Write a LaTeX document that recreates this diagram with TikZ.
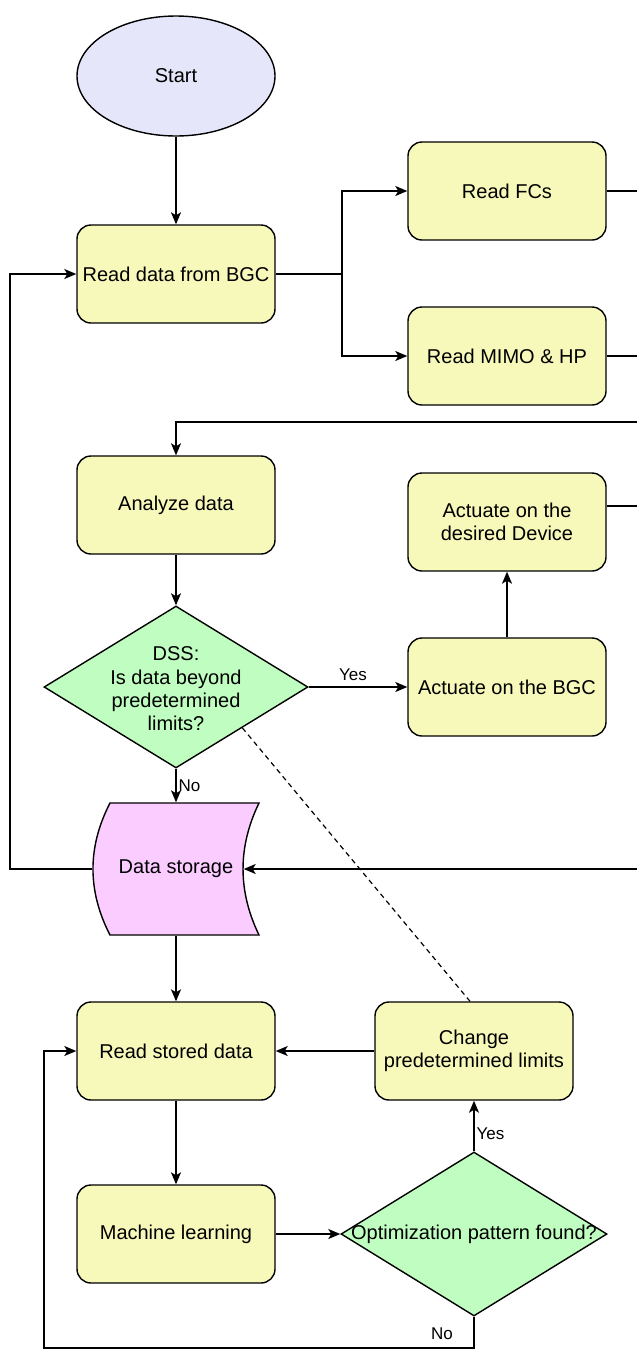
\documentclass[tikz,border=0pt]{standalone}
\usepackage{fontspec}
\setmainfont{Liberation Sans}
\usetikzlibrary{shapes.geometric,arrows.meta}
\definecolor{boxy}{HTML}{F7F9BA}
\definecolor{lav}{HTML}{E6E6FA}
\definecolor{grn}{HTML}{C0FDC0}
\definecolor{pnk}{HTML}{FACCFF}
\begin{document}
\begin{tikzpicture}[x=1pt,y=-1pt,line width=1.4pt,
  txt/.style={align=center,font=\fontsize{20}{23.4}\selectfont},
  box/.style={txt,draw,rounded corners=14pt,fill=boxy,minimum width=198pt,minimum height=98pt},
  dia/.style={diamond,draw,fill=grn,inner sep=0pt},
  arr/.style={-{Stealth[length=12pt,width=10pt,inset=3pt]}},
  lbl/.style={font=\fontsize{17}{20}\selectfont,inner sep=2pt}]
\useasboundingbox (0,0) rectangle (637,1350);
\coordinate (rx) at (637,0);
\coordinate (lx) at (10,0);
\coordinate (sp) at (342,274);
\coordinate (r422) at (637,422);
\coordinate (bl) at (44,1348);

\node[ellipse,draw,fill=lav,minimum width=198pt,minimum height=120pt,txt] (start) at (176,76) {Start};
\node[box] (rd) at (176,274) {Read data from BGC};
\node[box] (fc) at (507,191) {Read FCs};
\node[box] (mimo) at (507,356) {Read MIMO \& HP};
\node[box] (an) at (176,505) {Analyze data};
\node[box] (dev) at (507,522) {Actuate on the\\desired Device};
\node[dia,minimum width=264pt,minimum height=162pt] (dss) at (176,687) {};
\node[txt] (dsst) at (176,689) {DSS:\\Is data beyond\\predetermined\\limits?};
\node[box] (bgc) at (507,687) {Actuate on the BGC};
\filldraw[fill=pnk] (110,803) -- (259,803) .. controls (237.7,847) and (237.7,891) .. (259,935)
  -- (110,935) .. controls (87.3,891) and (87.3,847) .. (110,803) -- cycle;
\node[txt,minimum width=166pt,minimum height=132pt] (ds) at (176,869) {Data storage};
\node[box] (rsd) at (176,1051) {Read stored data};
\node[box] (chg) at (474,1051) {Change\\predetermined limits};
\node[box] (ml) at (176,1234) {Machine learning};
\node[dia,minimum width=266pt,minimum height=164pt] (opt) at (474,1234) {};
\node[txt] (optt) at (474,1234) {Optimization pattern found?};

\draw[arr] (start) -- (rd);
\draw (rd.east) -- (sp);
\draw[arr] (sp) |- (fc.west);
\draw[arr] (sp) |- (mimo.west);
\draw (fc.east) -- (fc.east -| rx);
\draw (mimo.east) -- (mimo.east -| rx);
\draw[arr] (r422) -| (an.north);
\draw ([yshift=16pt]dev.east) -- ++(31,0);
\draw[arr] (an) -- (dss);
\draw[arr] (dss.east) -- node[lbl,above,pos=0.45,yshift=4pt] (yes1) {Yes} (bgc.west);
\draw[arr] (bgc) -- (dev);
\draw[arr] (dss.south) -- node[lbl,right] (no1) {No} (ds.north);
\draw[arr] (ds.west) -- (ds.west -| lx) |- (rd.west);
\draw[arr] (ds.east -| rx) -- ([xshift=-16pt]ds.east);
\draw[dash pattern=on 5pt off 4pt,line width=1.2pt] (dss.south east) -- ([xshift=-4pt]chg.north);
\draw[arr] (ds.south) -- (rsd.north);
\draw[arr] (chg) -- (rsd);
\draw[arr] (rsd) -- (ml);
\draw[arr] (ml) -- (opt.west);
\draw[arr] (opt.north) -- node[lbl,right,pos=0.35] (yes2) {Yes} (chg.south);
\draw[arr] (opt.south) |- (bl) |- (rsd.west);
\node[lbl] (no2) at (442,1334) {No};
\end{tikzpicture}
\end{document}
